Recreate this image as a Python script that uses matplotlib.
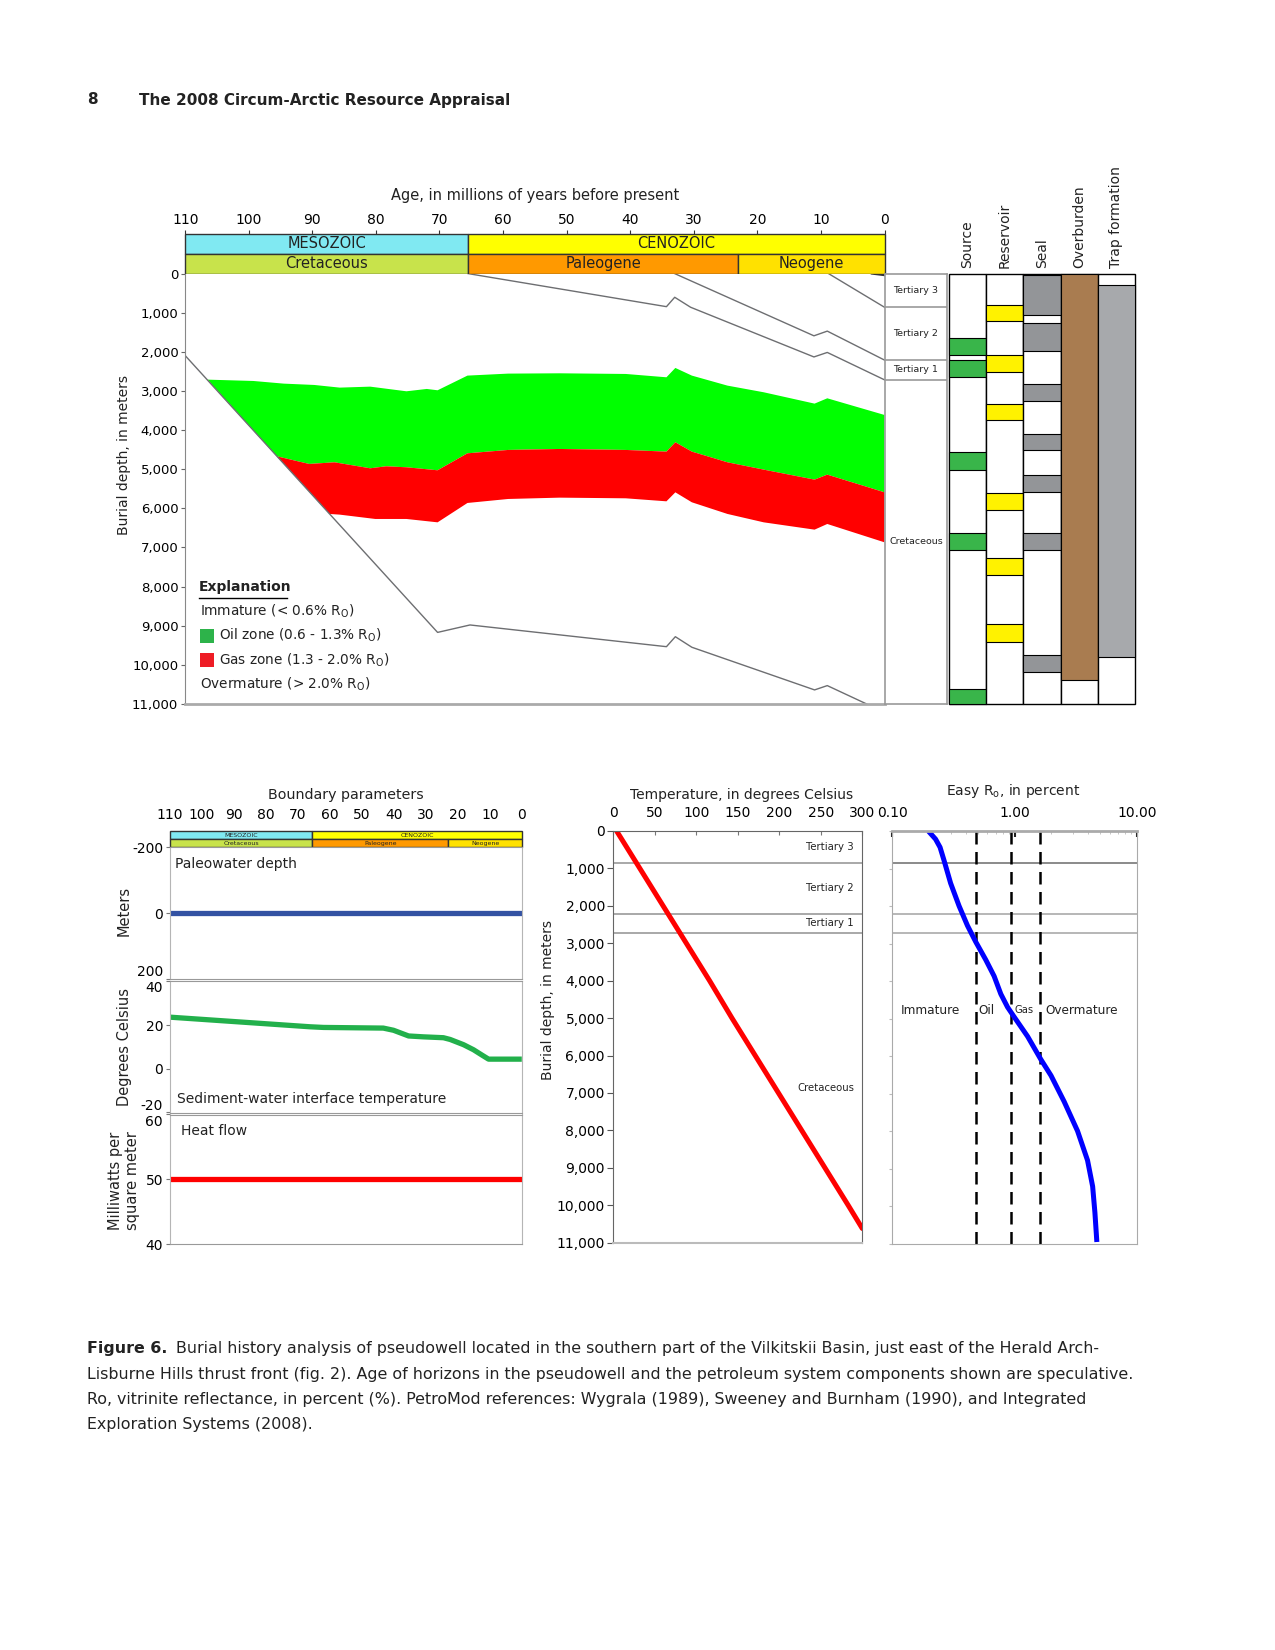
import numpy as np
import matplotlib
matplotlib.use('Agg')
import matplotlib.pyplot as plt
from matplotlib import font_manager
from matplotlib.patches import Rectangle
from matplotlib.ticker import FuncFormatter, NullFormatter, LogLocator

# ---------------- data ----------------
# geologic time scale, Ma
era_names = ['MESOZOIC', 'CENOZOIC']
era_start = [110, 65.5]
era_end = [65.5, 0]
era_colors = ['#80e9f2', '#ffff00']
period_names = ['Cretaceous', 'Paleogene', 'Neogene']
period_start = [110, 65.5, 23.0]
period_end = [65.5, 23.0, 0]
period_colors = ['#c8e34b', '#ff9900', '#ffe100']

age_ticks = [110, 100, 90, 80, 70, 60, 50, 40, 30, 20, 10, 0]
depth_ticks = [0, 1000, 2000, 3000, 4000, 5000, 6000, 7000, 8000, 9000, 10000, 11000]

# burial curves of horizons (age Ma / depth m)
top_age = [2.0, 0]
top_depth = [0, 40]
t3_age = [8.8, 0]
t3_depth = [0, 860]
t2_age = [33.0, 11.1, 9.0, 0]
t2_depth = [0, 1590, 1470, 2210]
t1_age = [65.5, 34.3, 33.0, 30.5, 11.1, 9.0, 0]
t1_depth = [0, 845, 605, 860, 2130, 2015, 2715]
kb_age = [110, 70.3, 65.2, 34.3, 32.9, 30.3, 11.0, 9.0, 2.8]
kb_depth = [2096, 9170, 8980, 9535, 9280, 9550, 10640, 10530, 11000]

# maturity zones
oil_top_age = [106.5, 99.3, 94.5, 89.7, 85.7, 80.9, 75.2, 72.0, 70.3, 65.6, 59.2, 51.1, 40.7, 34.3, 32.9, 30.3, 24.7, 19.0, 11.0, 9.0, 0]
oil_top_depth = [2710, 2744, 2812, 2846, 2914, 2889, 3008, 2948, 2982, 2607, 2556, 2548, 2565, 2650, 2411, 2607, 2863, 3033, 3323, 3187, 3613]
gas_top_age = [95.6, 90.5, 86.5, 80.9, 78.4, 75.2, 70.3, 65.6, 59.2, 51.1, 40.7, 34.3, 32.9, 30.3, 24.7, 19.0, 11.0, 9.0, 0]
gas_top_depth = [4669, 4865, 4823, 4976, 4925, 4950, 5027, 4593, 4507, 4482, 4507, 4550, 4311, 4550, 4823, 5010, 5266, 5138, 5590]
gas_base_age = [87.3, 85.7, 80.1, 75.2, 70.3, 65.6, 59.2, 51.1, 40.7, 34.3, 32.9, 30.3, 24.7, 19.0, 11.0, 9.0, 0]
gas_base_depth = [6143, 6160, 6271, 6271, 6357, 5862, 5760, 5726, 5743, 5820, 5590, 5845, 6143, 6357, 6544, 6399, 6868]

legend_labels = ['Immature (< 0.6% R$_{\\rm O}$)', 'Oil zone (0.6 - 1.3% R$_{\\rm O}$)',
                 'Gas zone (1.3 - 2.0% R$_{\\rm O}$)', 'Overmature (> 2.0% R$_{\\rm O}$)']
legend_colors = [None, '#2db34a', '#ee1c25', None]

# formations in the pseudowell
form_names = ['Tertiary 3', 'Tertiary 2', 'Tertiary 1', 'Cretaceous']
form_top = [0, 860, 2210, 2715]
form_base = [860, 2210, 2715, 11000]

# petroleum system elements (top / base depth, m)
element_names = ['Source', 'Reservoir', 'Seal', 'Overburden', 'Trap formation']
element_colors = ['#39b54a', '#fff200', '#939598', '#a97c50', '#a7a9ac']
source_top = [1650, 2220, 4570, 6620, 10610]
source_base = [2080, 2650, 5010, 7060, 11000]
reservoir_top = [790, 2080, 3320, 5600, 7270, 8960]
reservoir_base = [1220, 2520, 3750, 6050, 7710, 9410]
seal_top = [30, 1260, 2830, 4100, 5160, 6640, 9760]
seal_base = [1060, 1970, 3250, 4520, 5590, 7070, 10190]
overburden_top = [0]
overburden_base = [10380]
trap_top = [300]
trap_base = [9810]

# boundary parameters
pwd_age = [110, 0]
pwd_m = [0, 0]
swi_age = [110, 66.2, 62.0, 43.3, 40.1, 35.4, 30.8, 24.5, 22.4, 18.2, 15.1, 12.5, 10.4, 0]
swi_temp = [23.6, 19.2, 18.9, 18.6, 17.6, 15.0, 14.6, 14.2, 13.4, 11.0, 8.7, 6.3, 4.4, 4.4]
hf_age = [110, 0]
hf_mw = [50, 50]

# present-day temperature profile
temp_depth = [0, 1000, 2000, 3000, 4000, 5000, 6000, 7000, 8000, 9000, 10000, 10620]
temp_c = [4, 32, 60, 88, 116, 143, 171, 199, 227, 255, 283, 300]
temp_ticks = [0, 50, 100, 150, 200, 250, 300]

# present-day Easy Ro profile
ro_depth = [0, 217, 435, 783, 1391, 2000, 2522, 2957, 3435, 3870, 4348, 4696, 4957, 5478, 6087, 6522, 7217, 8000, 8783, 9478, 10174, 10960]
ro_pct = [0.197, 0.226, 0.246, 0.265, 0.30, 0.352, 0.412, 0.482, 0.582, 0.681, 0.773, 0.877, 0.993, 1.28, 1.64, 1.99, 2.55, 3.28, 3.96, 4.36, 4.55, 4.72]
ro_limits = [0.48, 0.93, 1.62]
ro_zone_names = ['Immature', 'Oil', 'Gas', 'Overmature']
ro_zone_x = [0.117, 0.51, 1.0, 1.78]
ro_zone_size = [8.7, 8.7, 7.2, 8.7]

# ---------------- figure ----------------
names = {f.name for f in font_manager.fontManager.ttflist}
if 'Liberation Sans Narrow' in names:
    NARROW, CAP, HEAD = 'Liberation Sans Narrow', 14, 14.5
else:
    NARROW, CAP, HEAD = 'DejaVu Sans', 11.4, 11
plt.rcParams['font.family'] = ['DejaVu Sans']
plt.rcParams['text.color'] = '#222222'
plt.rcParams['axes.unicode_minus'] = False

W, H = 1275, 1650
fig = plt.figure(figsize=(W / 100, H / 100), dpi=100)


def box(x0, y0, x1, y1):
    return fig.add_axes([x0 / W, 1 - y1 / H, (x1 - x0) / W, (y1 - y0) / H])


comma = FuncFormatter(lambda v, p: f'{int(v):,}')


def era_bar(a, fs, with_ticks):
    a.set_xlim(110, 0)
    a.set_ylim(0, 2)
    a.barh([1.5] * 2, np.subtract(era_end, era_start), left=era_start, height=1,
           color=era_colors, edgecolor='#333333', lw=1, clip_on=False)
    a.barh([0.5] * 3, np.subtract(period_end, period_start), left=period_start, height=1,
           color=period_colors, edgecolor='#333333', lw=1, clip_on=False)
    for n, s, e in zip(era_names, era_start, era_end):
        a.text((s + e) / 2, 1.5, n, ha='center', va='center', fontsize=fs)
    for n, s, e in zip(period_names, period_start, period_end):
        a.text((s + e) / 2, 0.5, n, ha='center', va='center', fontsize=fs)
    a.set_yticks([])
    a.set_xticks(age_ticks)
    a.tick_params(axis='x', top=True, bottom=False, labeltop=True, labelbottom=False,
                  labelsize=10, color='#333333', length=3 if with_ticks else 0,
                  pad=2 if with_ticks else 7)
    for s in a.spines.values():
        s.set_visible(False)


# ---- burial history chart ----
axe = box(185.2, 233.6, 884.5, 273.6)
era_bar(axe, 10.5, True)

ax = box(185.2, 273.6, 884.5, 704)
ax.set_xlim(110, 0)
ax.set_ylim(11000, 0)
ax.fill(oil_top_age + gas_top_age[::-1], oil_top_depth + gas_top_depth[::-1], color='#00ff00', lw=0)
ax.fill(gas_top_age + gas_base_age[::-1], gas_top_depth + gas_base_depth[::-1], color='#ff0000', lw=0)
for a, d in [(t3_age, t3_depth), (t2_age, t2_depth), (t1_age, t1_depth), (kb_age, kb_depth)]:
    ax.plot(a, d, color='#6d6e71', lw=1)
ax.plot(top_age, top_depth, color='#333333', lw=1.5)
ax.set_xticks([])
ax.set_yticks(depth_ticks)
ax.yaxis.set_major_formatter(comma)
ax.tick_params(axis='y', length=3, pad=2, labelsize=9.5, color='#666666')
ax.spines['top'].set_visible(False)
ax.spines['right'].set_visible(False)
ax.spines['left'].set_color('#888888')
ax.spines['bottom'].set_color('#aaaaaa')
ax.spines['bottom'].set_linewidth(2)

# explanation
ax.text(0.0195, 0.271, 'Explanation', transform=ax.transAxes, fontsize=10, fontweight='bold', va='center')
ax.plot([0.0195, 0.146], [0.247, 0.247], transform=ax.transAxes, color='black', lw=1)
for i, (lab, col) in enumerate(zip(legend_labels, legend_colors)):
    yy = 0.215 - i * 0.0565
    if col is None:
        ax.text(0.021, yy, lab, transform=ax.transAxes, fontsize=9.8, va='center')
    else:
        ax.add_patch(Rectangle((0.021, yy - 0.016), 0.0195, 0.032, transform=ax.transAxes, color=col, lw=0))
        ax.text(0.048, yy, lab, transform=ax.transAxes, fontsize=9.8, va='center')

# formation column
axf = box(885, 273.6, 947, 704)
axf.set_xlim(0, 1)
axf.set_ylim(11000, 0)
for b in form_base[:-1]:
    axf.axhline(b, color='#999999', lw=1.2)
for n, t, b in zip(form_names, form_top, form_base):
    axf.text(0.5, (t + b) / 2, n, ha='center', va='center', fontsize=6.8)
axf.set_xticks([])
axf.set_yticks([])
for s in axf.spines.values():
    s.set_color('#999999')
    s.set_linewidth(1.2)

# petroleum system elements
axc = box(949, 273.6, 1135, 704)
axc.set_xlim(0, 5)
axc.set_ylim(11000, 0)
axc.axis('off')
element_tops = [source_top, reservoir_top, seal_top, overburden_top, trap_top]
element_bases = [source_base, reservoir_base, seal_base, overburden_base, trap_base]
for i, (tops, bases) in enumerate(zip(element_tops, element_bases)):
    axc.bar(i + 0.5, 11000, bottom=0, width=1, color='white', edgecolor='black', lw=1, clip_on=False)
    axc.bar([i + 0.5] * len(tops), np.subtract(bases, tops), bottom=tops, width=1,
            color=element_colors[i], edgecolor='black', lw=0.8, clip_on=False)
    axc.text(i + 0.5, 1.012, element_names[i], rotation=90, ha='center', va='bottom',
             transform=axc.get_xaxis_transform(), fontsize=10)

# ---- boundary parameters ----
axb = box(170, 831.3, 521.8, 847.4)
era_bar(axb, 4.5, False)

panels = [
    (box(170, 847.4, 521.8, 979.3), pwd_age, pwd_m, '#3352a3', (200, -200), [-200, 0, 200],
     'Paleowater depth', (0.013, 0.874), [None, None, 'bottom']),
    (box(170, 981.3, 521.8, 1112.5), swi_age, swi_temp, '#22b04b', (-20, 40), [40, 20, 0, -20],
     'Sediment-water interface temperature', (0.019, 0.106), ['top', None, None, 'bottom']),
    (box(170, 1114.5, 521.8, 1244), hf_age, hf_mw, '#ff0000', (40, 60), [60, 50, 40],
     'Heat flow', (0.031, 0.871), ['top', None, None]),
]
for a, xs, ys, col, lim, ticks, lab, pos, vas in panels:
    a.plot(xs, ys, color=col, lw=3.8, solid_capstyle='butt', solid_joinstyle='round')
    a.set_xlim(110, 0)
    a.set_ylim(*lim)
    a.set_xticks([])
    a.set_yticks(ticks)
    a.tick_params(axis='y', length=3, pad=2, labelsize=10, color='#777777')
    for tl, va in zip(a.get_yticklabels(), vas):
        if va is not None:
            tl.set_verticalalignment(va)
    a.text(pos[0], pos[1], lab, transform=a.transAxes, fontsize=10, va='center')
    for s in a.spines.values():
        s.set_color('#b5b5b5')
    a.spines['bottom'].set_color('#999999')
    a.spines['top'].set_color('#999999')

# ---- temperature ----
axt = box(613.3, 831, 862.3, 1242.7)
axt.set_xlim(0, 300)
axt.set_ylim(11000, 0)
for b in form_base[:-1]:
    axt.axhline(b, color='#9a9a9a', lw=1.2)
for n, t, b in zip(form_names, form_top, form_base):
    axt.text(290, (t + b) / 2, n, ha='right', va='center', fontsize=7.3)
axt.plot(temp_c, temp_depth, color='#ff0000', lw=3.6, solid_capstyle='round')
axt.xaxis.tick_top()
axt.set_xticks(temp_ticks)
axt.set_yticks(depth_ticks)
axt.yaxis.set_major_formatter(comma)
axt.tick_params(axis='x', direction='in', length=3, pad=8, labelsize=10, color='#777777')
axt.tick_params(axis='y', length=4, pad=2, labelsize=10, color='#555555')
for s in axt.spines.values():
    s.set_color('#666666')
axt.spines['bottom'].set_color('#bbbbbb')
axt.spines['bottom'].set_linewidth(1.5)

# ---- Easy Ro ----
axr = box(892.3, 831, 1136.7, 1243.5)
axr.set_xscale('log')
axr.set_xlim(0.1, 10)
axr.set_ylim(11000, 0)
axr.axhline(form_base[0], color='#777777', lw=1.2)
for b in form_base[1:-1]:
    axr.axhline(b, color='#aaaaaa', lw=1.2)
for v in ro_limits:
    axr.axvline(v, color='black', ls=(0, (5, 3)), lw=1.8)
axr.plot(ro_pct, ro_depth, color='#0000ff', lw=3.6, solid_capstyle='butt', solid_joinstyle='round')
for n, xv, fs in zip(ro_zone_names, ro_zone_x, ro_zone_size):
    axr.text(xv, 4783, n, ha='left', va='center', fontsize=fs)
axr.xaxis.tick_top()
axr.set_xticks([0.1, 1, 10])
axr.set_xticklabels(['0.10', '1.00', '10.00'])
axr.xaxis.set_minor_locator(LogLocator(base=10, subs=np.arange(2, 10)))
axr.xaxis.set_minor_formatter(NullFormatter())
axr.tick_params(axis='x', which='major', direction='in', length=4, width=1.5, pad=8, labelsize=10, color='#222222')
axr.tick_params(axis='x', which='minor', direction='in', length=2, color='#bbbbbb')
axr.set_yticks(depth_ticks)
axr.set_yticklabels([])
axr.tick_params(axis='y', length=2, color='#bbbbbb')
for s in axr.spines.values():
    s.set_color('#aaaaaa')
axr.spines['top'].set_linewidth(2)

# ---------------- page text ----------------
pg = fig.add_axes([0, 0, 1, 1], zorder=-1)
pg.set_xlim(0, W)
pg.set_ylim(H, 0)
pg.axis('off')

pg.text(87, 100, '8', fontsize=HEAD, fontweight='bold', family=NARROW, va='center')
pg.text(139, 100, 'The 2008 Circum-Arctic Resource Appraisal', fontsize=HEAD, fontweight='bold',
        family=NARROW, va='center')

pg.text(535.5, 195.7, 'Age, in millions of years before present', ha='center', va='center', fontsize=10.5)
pg.text(124, 454.6, 'Burial depth, in meters', rotation=90, ha='center', va='center', fontsize=10)
pg.text(346, 794.5, 'Boundary parameters', ha='center', va='center', fontsize=10.3)
pg.text(742, 794.5, 'Temperature, in degrees Celsius', ha='center', va='center', fontsize=10)
pg.text(1013, 791.5, 'Easy R$_{\\rm o}$, in percent', ha='center', va='center', fontsize=10)
pg.text(548, 1000, 'Burial depth, in meters', rotation=90, ha='center', va='center', fontsize=10)
pg.text(124, 911.3, 'Meters', rotation=90, ha='center', va='center', fontsize=10.5)
pg.text(124, 1047, 'Degrees Celsius', rotation=90, ha='center', va='center', fontsize=10.5)
pg.text(124, 1180.7, 'Milliwatts per\nsquare meter', rotation=90, ha='center', va='center',
        fontsize=10.5, multialignment='center', linespacing=1.1)

caption = [
    'Burial history analysis of pseudowell located in the southern part of the Vilkitskii Basin, just east of the Herald Arch-',
    'Lisburne Hills thrust front (fig. 2). Age of horizons in the pseudowell and the petroleum system components shown are speculative.',
    'Ro, vitrinite reflectance, in percent (%). PetroMod references: Wygrala (1989), Sweeney and Burnham (1990), and Integrated',
    'Exploration Systems (2008).',
]
pg.text(87, 1349, 'Figure 6.', fontsize=CAP, fontweight='bold', family=NARROW, va='center')
for i, line in enumerate(caption):
    pg.text(175.7 if i == 0 else 87, 1349 + i * 25.3, line, fontsize=CAP, family=NARROW, va='center')

fig.savefig('out.png', dpi=100)
